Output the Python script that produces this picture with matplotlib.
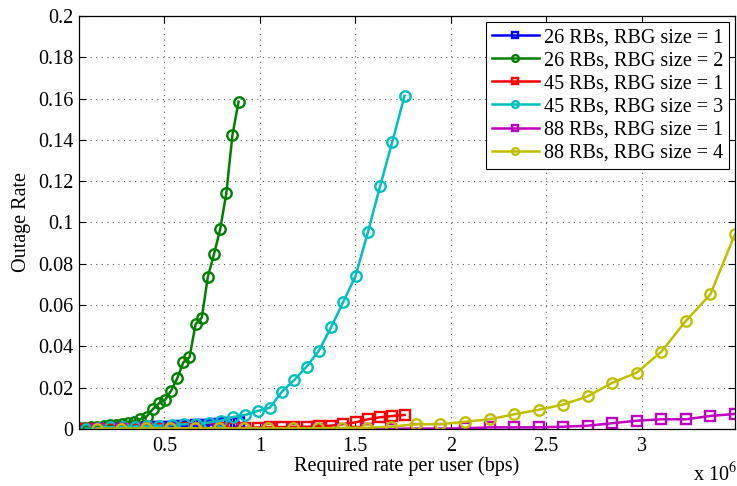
import matplotlib
matplotlib.use('Agg')
import matplotlib.pyplot as plt
from matplotlib.ticker import FuncFormatter, MultipleLocator

plt.rcParams['font.family'] = ['Liberation Serif', 'DejaVu Serif']
plt.rcParams['mathtext.fontset'] = 'stix'

# required rate per user (Mbps) for each group of curves
rate_26 = [0.0525, 0.0847, 0.1168, 0.1490, 0.1811, 0.2133, 0.2454, 0.2776, 0.3097,
           0.3419, 0.3740, 0.4062, 0.4383, 0.4705, 0.5026, 0.5348, 0.5669, 0.5991,
           0.6312, 0.6634, 0.6955, 0.7277, 0.7598, 0.7920, 0.8241, 0.8563, 0.8884]
rate_45 = [0.089, 0.153, 0.217, 0.282, 0.346, 0.410, 0.474, 0.538, 0.603,
           0.667, 0.731, 0.795, 0.859, 0.924, 0.988, 1.052, 1.116, 1.180,
           1.245, 1.309, 1.373, 1.437, 1.501, 1.566, 1.630, 1.694, 1.758]
rate_88 = [0.145, 0.274, 0.402, 0.531, 0.659, 0.788, 0.917, 1.045, 1.174,
           1.302, 1.431, 1.560, 1.688, 1.817, 1.945, 2.074, 2.203, 2.331,
           2.460, 2.588, 2.717, 2.846, 2.974, 3.103, 3.231, 3.360, 3.489]

out_26_rbg1 = [0.0000, 0.0001, 0.0001, 0.0002, 0.0002, 0.0003, 0.0003, 0.0004, 0.0005,
               0.0006, 0.0007, 0.0008, 0.0009, 0.0010, 0.0011, 0.0012, 0.0013, 0.0014,
               0.0016, 0.0017, 0.0019, 0.0021, 0.0023, 0.0026, 0.0028, 0.0031, 0.0035]
out_26_rbg2 = [0.0003, 0.0006, 0.0009, 0.0012, 0.0015, 0.0018, 0.0021, 0.0024, 0.0030,
               0.0035, 0.0048, 0.0060, 0.0095, 0.0124, 0.0140, 0.0185, 0.0245, 0.0323,
               0.0347, 0.0508, 0.0539, 0.0738, 0.0847, 0.0967, 0.1141, 0.1424, 0.1585]
out_45_rbg1 = [0.0000, 0.0000, 0.0000, 0.0001, 0.0001, 0.0001, 0.0002, 0.0002, 0.0003,
               0.0003, 0.0004, 0.0005, 0.0005, 0.0006, 0.0007, 0.0008, 0.0009, 0.0010,
               0.0011, 0.0013, 0.0016, 0.0024, 0.0032, 0.0047, 0.0057, 0.0063, 0.0068]
out_45_rbg3 = [0.0002, 0.0003, 0.0008, 0.0009, 0.0012, 0.0014, 0.0016, 0.0019, 0.0023,
               0.0026, 0.0031, 0.0040, 0.0057, 0.0068, 0.0087, 0.0103, 0.0181, 0.0237,
               0.0302, 0.0379, 0.0492, 0.0616, 0.0741, 0.0953, 0.1177, 0.1391, 0.1614]
out_88_rbg1 = [0.0000, 0.0000, 0.0000, 0.0000, 0.0000, 0.0000, 0.0000, 0.0000, 0.0000,
               0.0000, 0.0001, 0.0001, 0.0001, 0.0002, 0.0002, 0.0003, 0.0008, 0.0008,
               0.0008, 0.0011, 0.0016, 0.0028, 0.0040, 0.0047, 0.0047, 0.0063, 0.0073]
out_88_rbg4 = [0.0002, 0.0002, 0.0003, 0.0003, 0.0003, 0.0003, 0.0003, 0.0003, 0.0003,
               0.0003, 0.0006, 0.0006, 0.0011, 0.0023, 0.0023, 0.0035, 0.0047, 0.0071,
               0.0093, 0.0118, 0.0158, 0.0224, 0.0273, 0.0374, 0.0523, 0.0652, 0.0944]

labels = ['26 RBs, RBG size = 1', '26 RBs, RBG size = 2',
          '45 RBs, RBG size = 1', '45 RBs, RBG size = 3',
          '88 RBs, RBG size = 1', '88 RBs, RBG size = 4']

series = [(rate_26, out_26_rbg1, (0, 0, 1), 's'),
          (rate_26, out_26_rbg2, (0, 0.5, 0), 'o'),
          (rate_45, out_45_rbg1, (1, 0, 0), 's'),
          (rate_45, out_45_rbg3, (0, 0.75, 0.75), 'o'),
          (rate_88, out_88_rbg1, (0.75, 0, 0.75), 's'),
          (rate_88, out_88_rbg4, (0.75, 0.75, 0), 'o')]

fs = 14.5

fig = plt.figure(figsize=(7.37, 4.86), dpi=100)
ax = fig.add_axes([0.1072, 0.1173, 0.8901, 0.8498])

for (x, y, c, m), lab in zip(series, labels):
    xs = [v * 1e6 for v in x]
    ax.plot(xs, y, color=c, marker=m, lw=1.8, ms=7.5 if m == 'o' else 6.5,
            mfc='none', mew=1.7, label=lab)

ax.set_xlim(rate_26[0] * 1e6, rate_88[-1] * 1e6)
ax.set_ylim(0, 0.2)
ax.xaxis.set_major_locator(MultipleLocator(0.5e6))
ax.yaxis.set_major_locator(MultipleLocator(0.02))
ax.xaxis.set_major_formatter(FuncFormatter(lambda v, p: '%g' % (v / 1e6)))
ax.yaxis.set_major_formatter(FuncFormatter(lambda v, p: '%g' % round(v, 4)))

ax.grid(True, linestyle=(0, (1, 4)), color='0.35', lw=0.8)
ax.tick_params(direction='in', top=True, right=True, length=5, width=0.8,
               labelsize=fs, pad=4)
ax.tick_params(axis='x', pad=6)
for s in ax.spines.values():
    s.set_linewidth(0.9)

ax.set_xlabel('Required rate per user (bps)', fontsize=fs, labelpad=0)
ax.set_ylabel('Outage Rate', fontsize=fs, labelpad=5)
fig.text(693 / 737, 1 - 481 / 486, r'x 10$^{6}$', fontsize=fs, va='baseline')

leg = ax.legend(loc='upper right', fontsize=fs, fancybox=False, edgecolor='k',
                framealpha=1, handlelength=2.3, handletextpad=0.25,
                labelspacing=0.2, borderaxespad=0.3, borderpad=0.3,
                markerscale=0.65)
leg.get_frame().set_linewidth(0.8)

fig.savefig('out.png', dpi=100)
